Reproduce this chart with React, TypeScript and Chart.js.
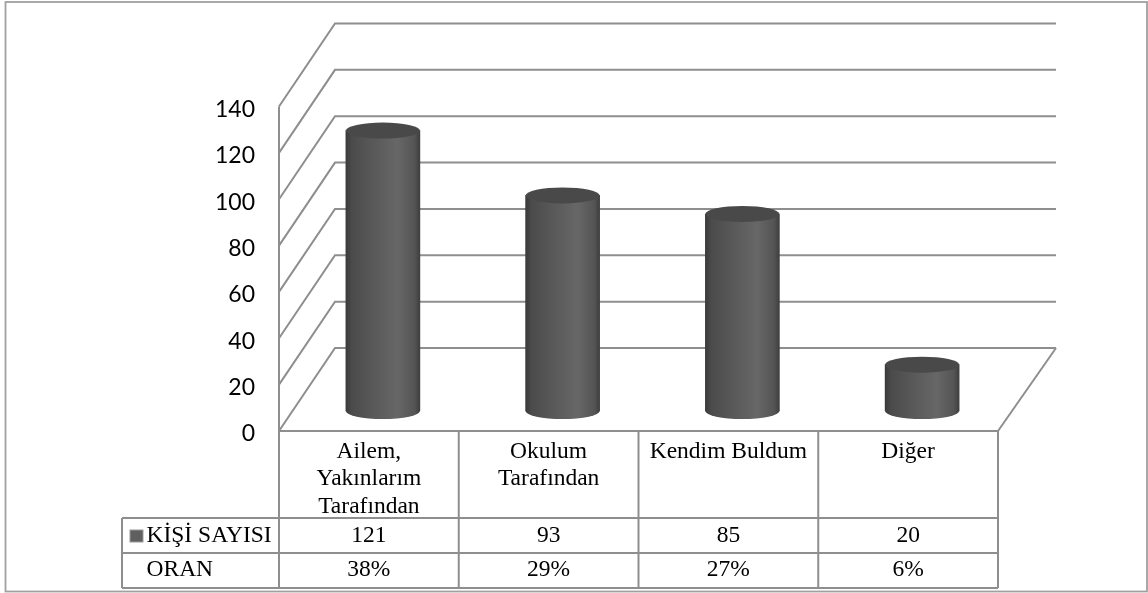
import React, { useEffect, useRef } from "react";
import { Chart, registerables } from "chart.js";

Chart.register(...registerables);

const categories = [["Ailem,", "Yakınlarım", "Tarafından"], ["Okulum", "Tarafından"], "Kendim Buldum", "Diğer"];
const seriesName = "KİŞİ SAYISI";
const kisiSayisi = [121, 93, 85, 20];
const rowName = "ORAN";
const oran = ["38%", "29%", "27%", "6%"];

const GRID = "#8e8e8e";
const SERIF = '"Liberation Serif", serif';

// Offset from the front of the floor to the back wall, and to the plane the cylinders stand on.
const WALL = { dx: 56, dy: -83 };
const DEPTH = { dx: 14, dy: -20 };
const BAR_WIDTH = 74;
const CAP_RY = 8;

function cylinderFill(ctx: CanvasRenderingContext2D, cx: number) {
  // The scale has no pixel positions until the first layout has run.
  if (!Number.isFinite(cx)) return "#595959";
  const g = ctx.createLinearGradient(cx - BAR_WIDTH / 2, 0, cx + BAR_WIDTH / 2, 0);
  g.addColorStop(0, "#3a3a3a");
  g.addColorStop(0.08, "#4b4b4b");
  g.addColorStop(0.4, "#5a5a5a");
  g.addColorStop(0.7, "#676767");
  g.addColorStop(0.93, "#545454");
  g.addColorStop(1, "#3e3e3e");
  return g;
}

const line = (ctx: CanvasRenderingContext2D, pts: number[][]) => {
  ctx.beginPath();
  pts.forEach(([x, y], i) => (i ? ctx.lineTo(x, y) : ctx.moveTo(x, y)));
  ctx.stroke();
};

// Side wall, back wall and floor outline, hung off the value axis.
const wallsPlugin = {
  id: "walls",
  beforeDatasetsDraw(chart: any) {
    const { ctx, chartArea: a, scales } = chart;
    ctx.save();
    ctx.strokeStyle = GRID;
    ctx.lineWidth = 2;
    for (const v of scales.y.ticks.map((t: any) => t.value)) {
      const y = scales.y.getPixelForValue(v);
      line(ctx, [[a.left, y], [a.left + WALL.dx, y + WALL.dy], [a.right + WALL.dx + 2, y + WALL.dy]]);
    }
    line(ctx, [[a.left, a.top], [a.left, a.bottom]]);
    line(ctx, [[a.right, a.bottom], [a.right + WALL.dx + 2, a.bottom + WALL.dy]]);
    ctx.restore();

    // Cylinders stand part-way back on the floor; the base caps go underneath the bars.
    ctx.save();
    ctx.translate(DEPTH.dx, DEPTH.dy);
    chart.getDatasetMeta(0).data.forEach((bar: any) => {
      ctx.fillStyle = cylinderFill(ctx, bar.x);
      ctx.beginPath();
      ctx.ellipse(bar.x, bar.base, BAR_WIDTH / 2, CAP_RY, 0, 0, Math.PI * 2);
      ctx.fill();
    });
  },
  afterDatasetsDraw(chart: any) {
    const { ctx } = chart;
    chart.getDatasetMeta(0).data.forEach((bar: any) => {
      ctx.fillStyle = "#494949";
      ctx.beginPath();
      ctx.ellipse(bar.x, bar.y, BAR_WIDTH / 2, CAP_RY, 0, 0, Math.PI * 2);
      ctx.fill();
    });
    ctx.restore();
  },
};

// Data table under the plot: frame, legend key and the two rows of figures.
const tablePlugin = {
  id: "dataTable",
  afterDraw(chart: any) {
    const { ctx, chartArea: a, scales } = chart;
    const rowTop = 518;
    const rowMid = 553;
    const rowEnd = 588;
    const keyLeft = 122;
    const step = (a.right - a.left) / categories.length;
    ctx.save();
    ctx.strokeStyle = GRID;
    ctx.lineWidth = 2;
    line(ctx, [[a.left, a.bottom], [a.right, a.bottom]]);
    line(ctx, [[keyLeft, rowTop], [a.right, rowTop]]);
    line(ctx, [[keyLeft, rowMid], [a.right, rowMid]]);
    line(ctx, [[keyLeft, rowEnd], [a.right, rowEnd]]);
    line(ctx, [[keyLeft, rowTop], [keyLeft, rowEnd]]);
    categories.forEach((_, i) => {
      const x = a.left + step * i;
      line(ctx, [[x, a.bottom], [x, rowEnd]]);
    });
    line(ctx, [[a.right, a.bottom], [a.right, rowEnd]]);

    ctx.fillStyle = "#5f5f5f";
    ctx.strokeStyle = "#9a9a9a";
    ctx.lineWidth = 1;
    ctx.fillRect(130, 530, 13, 12);
    ctx.strokeRect(130, 530, 13, 12);

    ctx.fillStyle = "#000000";
    ctx.font = `23.5px ${SERIF}`;
    ctx.textBaseline = "middle";
    ctx.textAlign = "left";
    ctx.fillText(seriesName, 146.5, 536);
    ctx.fillText(rowName, 146.5, 570);
    ctx.textAlign = "center";
    kisiSayisi.forEach((v, i) => {
      const x = scales.x.getPixelForValue(i);
      ctx.fillText(String(v), x, 536);
      ctx.fillText(oran[i], x, 570);
    });

    // Outer frame of the figure.
    ctx.strokeStyle = "#a0a0a0";
    ctx.lineWidth = 1.8;
    ctx.strokeRect(5.5, 2, 1141.5, 589.5);
    ctx.restore();
  },
};

export default function App() {
  const canvasRef = useRef<HTMLCanvasElement>(null);

  useEffect(() => {
    document.body.style.margin = "0";
    const chart = new Chart(canvasRef.current!, {
      type: "bar",
      data: {
        labels: categories,
        datasets: [
          {
            label: seriesName,
            data: kisiSayisi,
            barThickness: BAR_WIDTH,
            borderWidth: 0,
            clip: false,
            backgroundColor: (c: any) =>
              cylinderFill(c.chart.ctx, c.chart.scales.x.getPixelForValue(c.dataIndex)),
          },
        ],
      },
      options: {
        animation: false,
        responsive: false,
        layout: { padding: { top: 106.5, right: 150, left: 0, bottom: 0 } },
        plugins: { legend: { display: false }, tooltip: { enabled: false } },
        scales: {
          x: {
            grid: { display: false, drawTicks: false },
            border: { display: false },
            afterFit: (s: any) => {
              s.height = 162;
            },
            ticks: {
              maxRotation: 0,
              autoSkip: false,
              padding: 7,
              color: "#000000",
              font: { family: SERIF, size: 23.5, lineHeight: "27.5px" },
            },
          },
          y: {
            min: 0,
            max: 140,
            grid: { display: false, drawTicks: false },
            border: { display: false },
            afterFit: (s: any) => {
              s.width = 279;
            },
            ticks: {
              stepSize: 20,
              padding: 24,
              color: "#000000",
              // An empty first line nudges each label a little below its gridline.
              callback: (v: number) => ["", String(v)],
              font: { family: "Lato", size: 23, lineHeight: "6px" },
            },
          },
        },
      },
      plugins: [wallsPlugin, tablePlugin],
    } as any);
    return () => chart.destroy();
  }, []);

  return <canvas ref={canvasRef} width={1148} height={593} style={{ display: "block", background: "#ffffff" }} />;
}
